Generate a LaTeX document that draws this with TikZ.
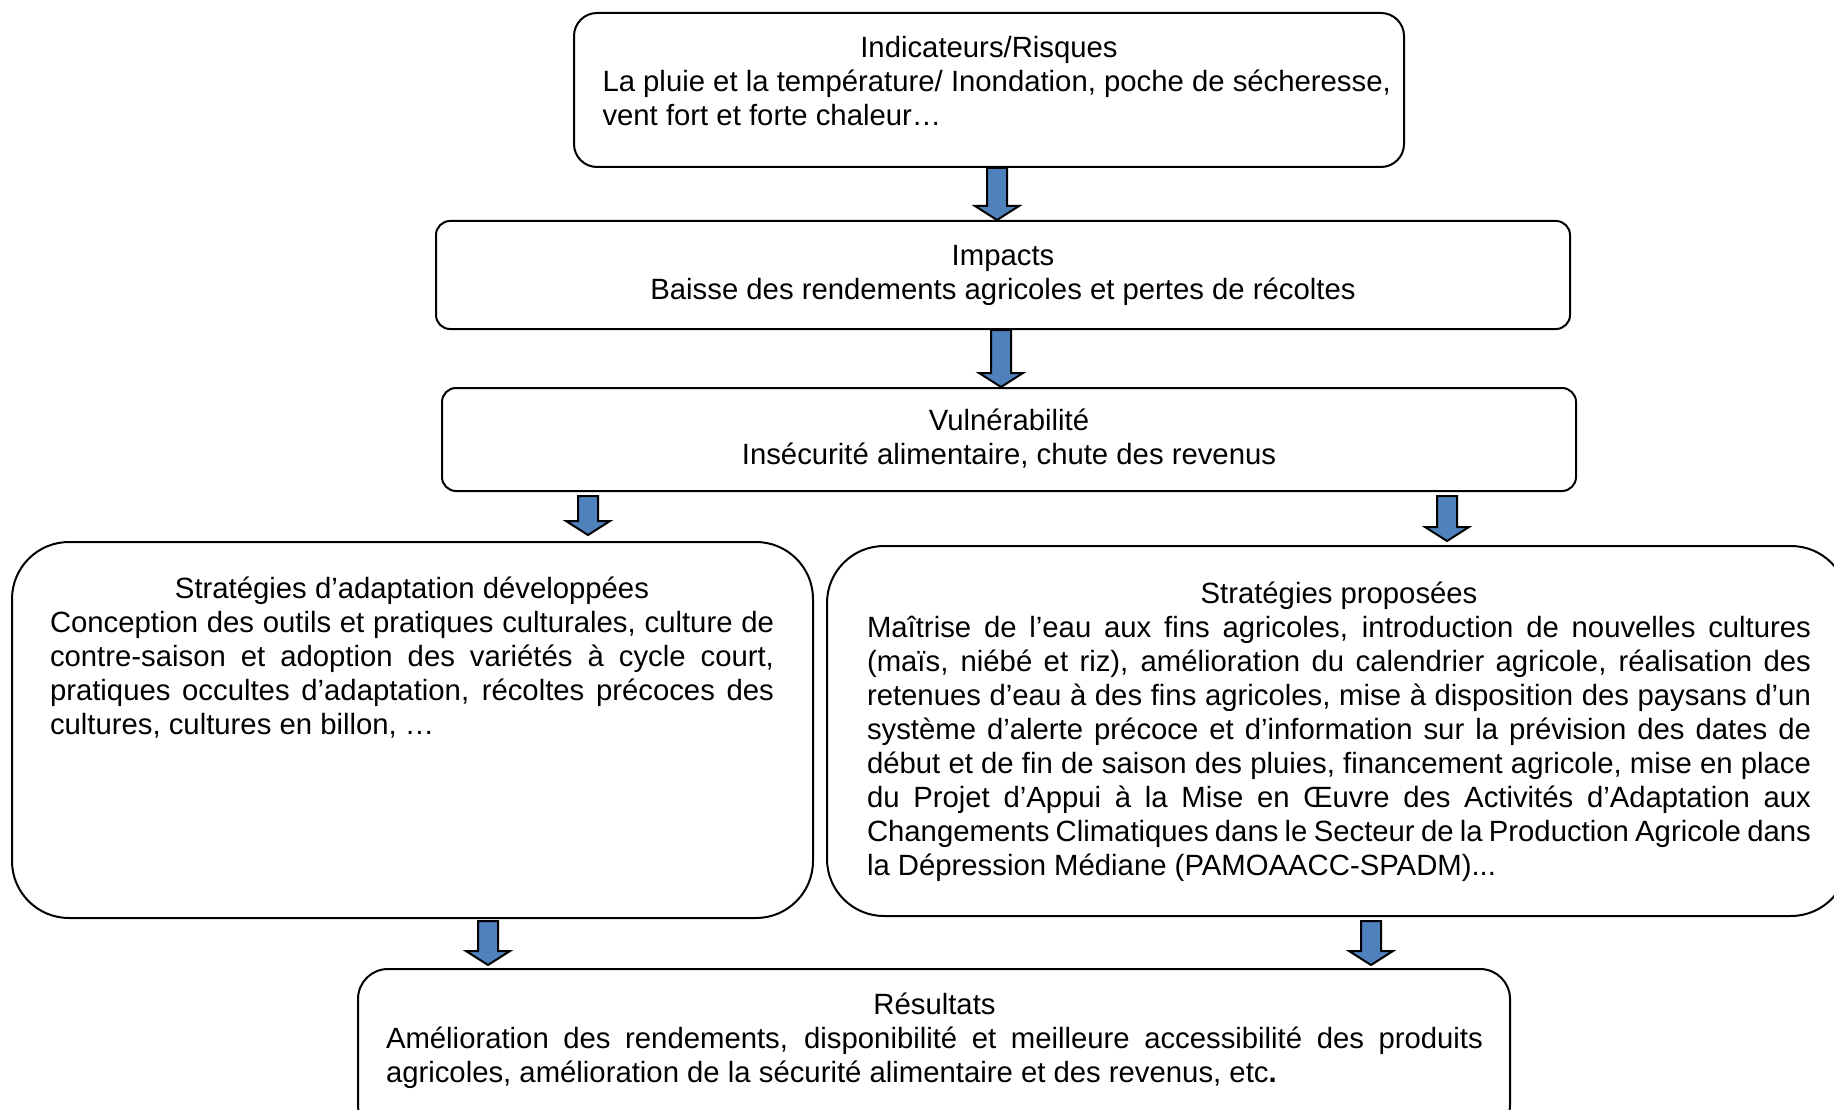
\documentclass[tikz,border=0pt]{standalone}
\usepackage{fontspec}
\setmainfont{Liberation Sans}
\usetikzlibrary{calc}
\definecolor{arrblue}{HTML}{4F81BD}
\tikzset{
  box/.style={draw=black, line width=2pt, fill=white, rectangle, inner sep=0pt},
  txt/.style={font=\fontsize{29.3}{34}\selectfont, inner sep=0pt, anchor=north, align=center},
  blockarrow/.style={draw=black, line width=2pt, fill=arrblue, line join=miter,
    to path={let \p1=(\tikztostart), \p2=(\tikztotarget) in
      (\x1-10pt,\y1) -- (\x1+10pt,\y1) -- (\x1+10pt,\y2+14pt) -- (\x1+22pt,\y2+14pt)
      -- (\x1,\y2) -- (\x1-22pt,\y2+14pt) -- (\x1-10pt,\y2+14pt) -- cycle}}
}
\begin{document}
\begin{tikzpicture}[x=1pt,y=-1pt]
\useasboundingbox (0,0) rectangle (1834,1110);
\fill[white] (0,0) rectangle (1834,1110);

% boxes
\node[box, rounded corners=23pt, minimum width=830pt, minimum height=154pt] (ind) at (989,90) {};
\node[box, rounded corners=14pt, minimum width=1134pt, minimum height=108pt] (imp) at (1003,275) {};
\node[box, rounded corners=14pt, minimum width=1134pt, minimum height=103pt] (vul) at (1009,439.5) {};
\node[box, rounded corners=57pt, minimum width=801pt, minimum height=376pt] (sad) at (412.5,730) {};
\node[box, rounded corners=57pt, minimum width=1021pt, minimum height=370pt] (spr) at (1337.5,731) {};
\node[box, rounded corners=30pt, minimum width=1152pt, minimum height=166pt] (res) at (934,1052) {};

% texts
\node[txt] (tind) at (989,34) {\strut Indicateurs/Risques\\
\makebox[773pt][l]{La pluie et la température/ Inondation, poche de sécheresse,}\\
\makebox[773pt][l]{vent fort et forte chaleur…}};

\node[txt] (timp) at (1003,241) {\strut Impacts\\
Baisse des rendements agricoles et pertes de récoltes};

\node[txt] (tvul) at (1009,406) {\strut Vulnérabilité\\
Insécurité alimentaire, chute des revenus};

\node[txt] (tsad) at (412,574) {\strut Stratégies d’adaptation développées\\
\makebox[724pt][s]{Conception des outils et pratiques culturales, culture de}\\
\makebox[724pt][s]{contre-saison et adoption des variétés à cycle court,}\\
\makebox[724pt][s]{pratiques occultes d’adaptation, récoltes précoces des}\\
\makebox[724pt][l]{cultures, cultures en billon, …}};

\node[txt] (tspr) at (1339,579) {\strut Stratégies proposées\\
\makebox[944pt][s]{Maîtrise de l’eau aux fins agricoles, introduction de nouvelles cultures}\\
\makebox[944pt][s]{(maïs, niébé et riz), amélioration du calendrier agricole, réalisation des}\\
\makebox[944pt][s]{retenues d’eau à des fins agricoles, mise à disposition des paysans d’un}\\
\makebox[944pt][s]{système d’alerte précoce et d’information sur la prévision des dates de}\\
\makebox[944pt][s]{début et de fin de saison des pluies, financement agricole, mise en place}\\
\makebox[944pt][s]{du Projet d’Appui à la Mise en Œuvre des Activités d’Adaptation aux}\\
\makebox[944pt][s]{Changements Climatiques dans le Secteur de la Production Agricole dans}\\
\makebox[944pt][l]{la Dépression Médiane (PAMOAACC-SPADM)...}};

\node[txt] (tres) at (934.5,990) {\strut Résultats\\
\makebox[1097pt][s]{Amélioration des rendements, disponibilité et meilleure accessibilité des produits}\\
\makebox[1097pt][l]{agricoles, amélioration de la sécurité alimentaire et des revenus, etc\textbf{.}}};

% arrow axes
\coordinate (c1) at (997,0);
\coordinate (c2) at (1001,0);
\coordinate (c3l) at (588,0);
\coordinate (c3r) at (1447,0);
\coordinate (c4l) at (488,0);
\coordinate (c4r) at (1371,0);

% block arrows
\draw[blockarrow] (ind.south -| c1) to (imp.north -| c1);
\draw[blockarrow] (imp.south -| c2) to (vul.north -| c2);
\draw[blockarrow] ($(vul.south -| c3l)+(0,4)$) to ($(sad.north -| c3l)+(0,-6)$);
\draw[blockarrow] ($(vul.south -| c3r)+(0,4)$) to ($(spr.north -| c3r)+(0,-4)$);
\draw[blockarrow] ($(sad.south -| c4l)+(0,2)$) to ($(res.north -| c4l)+(0,-3)$);
\draw[blockarrow] ($(spr.south -| c4r)+(0,4)$) to ($(res.north -| c4r)+(0,-3)$);
\end{tikzpicture}
\end{document}
